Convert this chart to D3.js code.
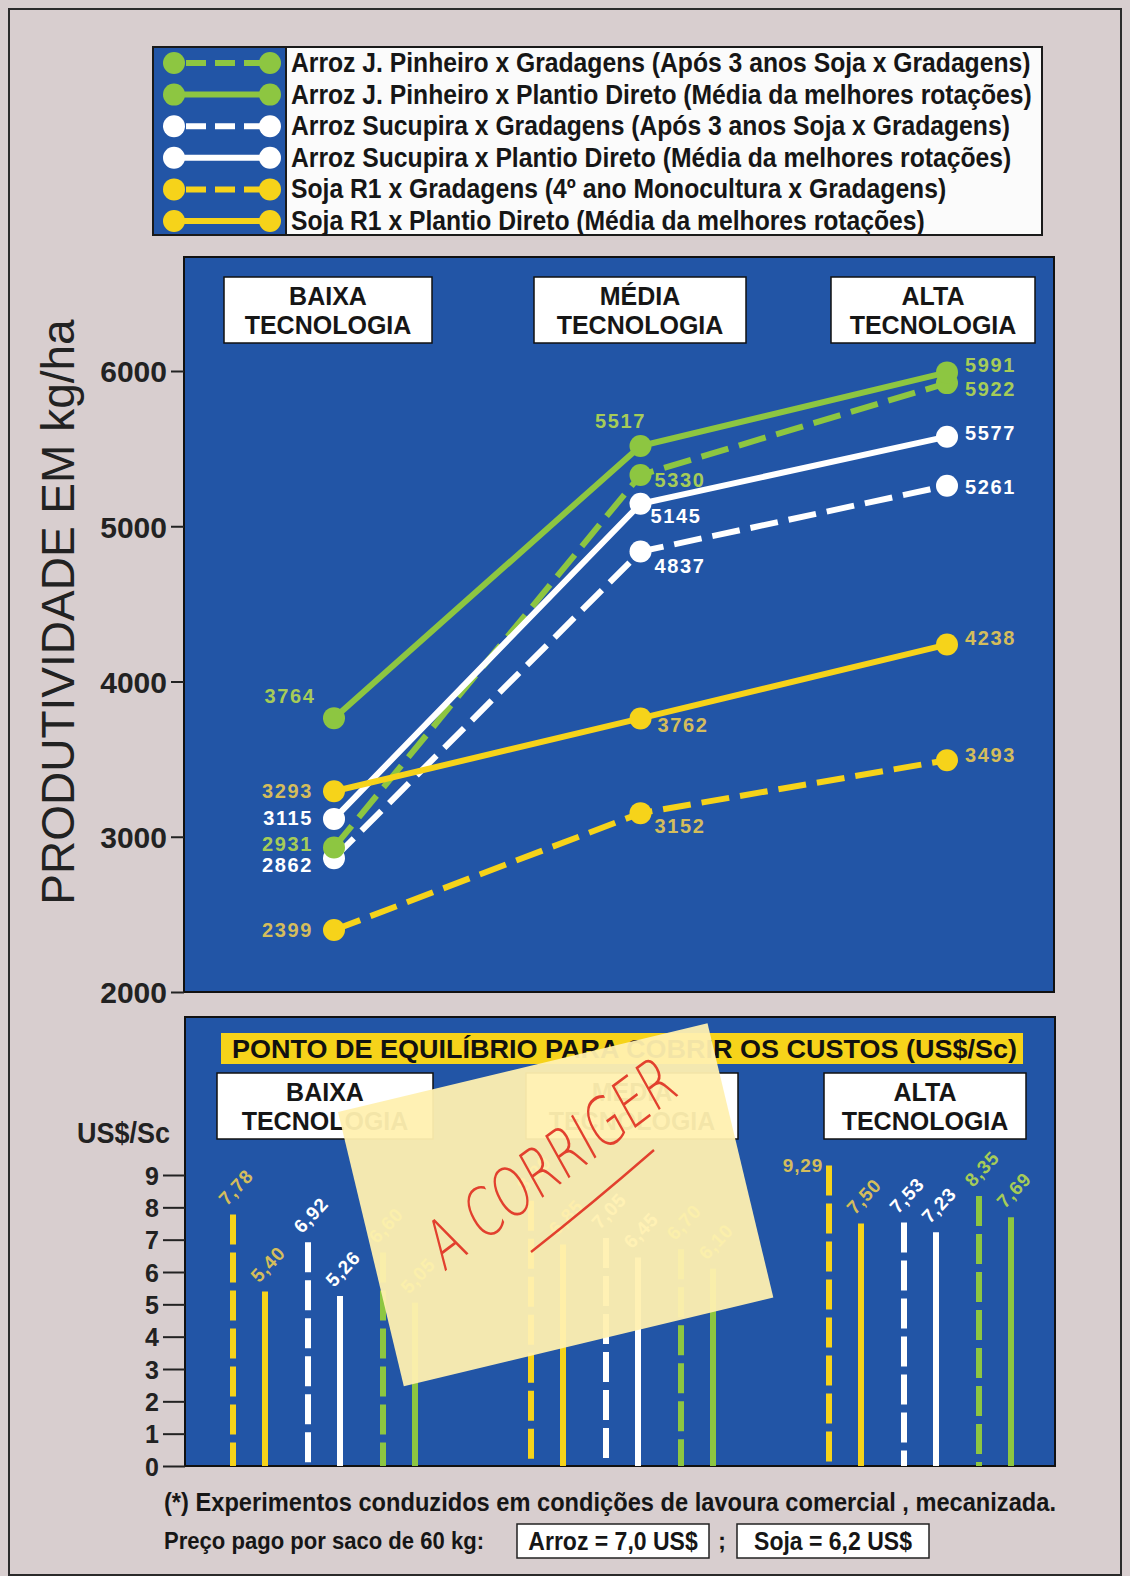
<!DOCTYPE html>
<html>
<head>
<meta charset="utf-8">
<script src="https://cdn.jsdelivr.net/npm/d3@7"></script>
<style>
  html, body { margin: 0; padding: 0; background: #d8cecf; }
  svg { display: block; font-family: "Liberation Sans", Arial, Helvetica, sans-serif; }
</style>
</head>
<body>
<svg id="chart" width="1130" height="1576"></svg>
<script>
// ---- data ----------------------------------------------------------------
const levels = ["BAIXA", "MÉDIA", "ALTA"];
const levelLines = [["BAIXA", "TECNOLOGIA"], ["MÉDIA", "TECNOLOGIA"], ["ALTA", "TECNOLOGIA"]];

const seriesKeys = ["jpGrad", "jpPD", "sucGrad", "sucPD", "sojaGrad", "sojaPD"];
const seriesNames = [
  "Arroz J. Pinheiro x Gradagens (Após 3 anos Soja x Gradagens)",
  "Arroz J. Pinheiro x Plantio Direto (Média da melhores rotações)",
  "Arroz Sucupira x Gradagens (Após 3 anos Soja x Gradagens)",
  "Arroz Sucupira x Plantio Direto (Média da melhores rotações)",
  "Soja R1 x Gradagens (4º ano Monocultura x Gradagens)",
  "Soja R1 x Plantio Direto (Média da melhores rotações)"
];

// productivity, kg/ha (BAIXA, MÉDIA, ALTA)
const jpGradYield   = [2931, 5330, 5922];
const jpPDYield     = [3764, 5517, 5991];
const sucGradYield  = [2862, 4837, 5261];
const sucPDYield    = [3115, 5145, 5577];
const sojaGradYield = [2399, 3152, 3493];
const sojaPDYield   = [3293, 3762, 4238];

// break-even price, US$ per 60 kg bag (BAIXA, MÉDIA, ALTA)
const sojaGradCost = [7.78, 8.20, 9.29];
const sojaPDCost   = [5.40, 6.85, 7.50];
const sucGradCost  = [6.92, 7.05, 7.53];
const sucPDCost    = [5.26, 6.45, 7.23];
const jpGradCost   = [6.60, 6.70, 8.35];
const jpPDCost     = [5.05, 6.10, 7.69];

const yieldTicks = [2000, 3000, 4000, 5000, 6000];
const costTicks  = [0, 1, 2, 3, 4, 5, 6, 7, 8, 9];

const costTitle = "PONTO DE EQUILÍBRIO PARA COBRIR OS CUSTOS (US$/Sc)";
const footNote  = "(*) Experimentos conduzidos em condições de lavoura comercial , mecanizada.";
const priceLead = "Preço pago por saco de 60 kg:";
const prices    = ["Arroz = 7,0 US$", "Soja = 6,2 US$"];

// ---- styling & layout -----------------------------------------------------
const BLUE = "#2255a6";
const GREEN = "#8dc641", YELLOW = "#f6d31a", WHITE = "#ffffff";
const INK = "#161616";
const style = {
  jpGrad:   { color: GREEN,  text: "#a6cc58", dashed: true },
  jpPD:     { color: GREEN,  text: "#a6cc58", dashed: false },
  sucGrad:  { color: WHITE,  text: "#ffffff", dashed: true },
  sucPD:    { color: WHITE,  text: "#ffffff", dashed: false },
  sojaGrad: { color: YELLOW, text: "#d4bd5c", dashed: true },
  sojaPD:   { color: YELLOW, text: "#d4bd5c", dashed: false }
};
const yieldOf = { jpGrad: jpGradYield, jpPD: jpPDYield, sucGrad: sucGradYield,
                  sucPD: sucPDYield, sojaGrad: sojaGradYield, sojaPD: sojaPDYield };
const costOf  = { jpGrad: jpGradCost, jpPD: jpPDCost, sucGrad: sucGradCost,
                  sucPD: sucPDCost, sojaGrad: sojaGradCost, sojaPD: sojaPDCost };

// value-label placement next to each point: [dx, dy, anchor] per level
const labelPlace = {
  jpGrad:   [[-21, 4, "end"],   [14, 12, "start"], [18, 13, "start"]],
  jpPD:     [[-44, -15, "middle"], [-20, -18, "middle"], [18, 0, "start"]],
  sucGrad:  [[-21, 14, "end"],  [14, 21, "start"], [18, 8, "start"]],
  sucPD:    [[-21, 6, "end"],   [10, 19, "start"], [18, 3, "start"]],
  sojaGrad: [[-21, 7, "end"],   [14, 20, "start"], [18, 2, "start"]],
  sojaPD:   [[-21, 7, "end"],   [17, 14, "start"], [18, 0, "start"]]
};

const svg = d3.select("#chart");
const fmtComma = d3.format(".2f");

// bold text squeezed horizontally, the way the condensed face of the sheet reads
function squeezed(parent, x, y, str, size, sx, anchor) {
  return parent.append("text")
    .attr("transform", `translate(${x},${y}) scale(${sx},1)`)
    .attr("text-anchor", anchor || "start")
    .attr("font-size", size).attr("font-weight", "bold").attr("fill", INK)
    .text(str);
}

// outer frame
svg.append("rect").attr("x", 9).attr("y", 9).attr("width", 1112).attr("height", 1566)
  .attr("fill", "#d8cecf").attr("stroke", "#2a2a2a").attr("stroke-width", 2);

// ---- legend ------------------------------------------------------------------
const legend = svg.append("g");
legend.append("rect").attr("x", 153).attr("y", 47).attr("width", 889).attr("height", 188)
  .attr("fill", "#fbfbfb").attr("stroke", "#1a1a1a").attr("stroke-width", 2);
legend.append("rect").attr("x", 153).attr("y", 47).attr("width", 133).attr("height", 188)
  .attr("fill", BLUE).attr("stroke", "#1a1a1a").attr("stroke-width", 2);
const legY = d3.scalePoint().domain(seriesKeys).range([63, 221]);
seriesKeys.forEach((k, i) => {
  const s = style[k], yy = legY(k);
  legend.append("line").attr("x1", 174).attr("x2", 270).attr("y1", yy).attr("y2", yy)
    .attr("stroke", s.color).attr("stroke-width", 6)
    .attr("stroke-dasharray", s.dashed ? "20,9" : null)
    .attr("stroke-dashoffset", s.dashed ? -12 : 0);
  [174, 270].forEach(cx => legend.append("circle").attr("cx", cx).attr("cy", yy).attr("r", 11).attr("fill", s.color));
  squeezed(legend, 291, yy + 9, seriesNames[i], 27, 0.915);
});

// ---- productivity panel --------------------------------------------------------
const topP = { left: 184, right: 1054, top: 257, bottom: 992 };
const x = d3.scalePoint().domain(levels).range([334, 947]);
const y = d3.scaleLinear().domain([2000, 6000]).range([topP.bottom, 371]);

svg.append("rect").attr("x", topP.left).attr("y", topP.top)
  .attr("width", topP.right - topP.left).attr("height", topP.bottom - topP.top)
  .attr("fill", BLUE).attr("stroke", "#111").attr("stroke-width", 2);

const yAxis = svg.append("g").attr("transform", `translate(${topP.left},0)`)
  .call(d3.axisLeft(y).tickValues(yieldTicks).tickSize(13).tickPadding(4).tickFormat(d3.format("d")));
yAxis.select(".domain").remove();
yAxis.selectAll(".tick line").attr("stroke", "#222").attr("stroke-width", 2);
yAxis.selectAll(".tick text").attr("font-size", 30).attr("font-weight", "bold")
  .attr("fill", "#222").attr("font-family", "Liberation Sans, Arial, sans-serif").attr("dy", "0.36em");

svg.append("text").attr("transform", "translate(74,612) rotate(-90)")
  .attr("text-anchor", "middle").attr("font-size", 46).attr("fill", "#222")
  .text("PRODUTIVIDADE EM kg/ha");

// level boxes (two-line captions)
function levelBoxes(centers, widths, yTop, h) {
  levels.forEach((lv, i) => {
    const g = svg.append("g"), cx = centers[i], w = widths[i];
    g.append("rect").attr("x", cx - w / 2).attr("y", yTop).attr("width", w).attr("height", h)
      .attr("fill", "#fff").attr("stroke", "#111").attr("stroke-width", 1.5);
    levelLines[i].forEach((t, j) => squeezed(g, cx, yTop + 28 + j * 29, t, 25, 1.0, "middle"));
  });
}
levelBoxes([328, 640, 933], [208, 212, 204], 277, 66);

// lines, then markers, then value labels
const line = d3.line().x((d, i) => x(levels[i])).y(d => y(d));
const drawOrder = ["sojaGrad", "sucGrad", "jpGrad", "sucPD", "jpPD", "sojaPD"];
drawOrder.forEach(k => {
  const s = style[k];
  svg.append("path").datum(yieldOf[k]).attr("d", line).attr("fill", "none")
    .attr("stroke", s.color).attr("stroke-width", 6)
    .attr("stroke-dasharray", s.dashed ? "28,11" : null);
});
drawOrder.forEach(k => {
  svg.append("g").selectAll("circle").data(yieldOf[k]).join("circle")
    .attr("cx", (d, i) => x(levels[i])).attr("cy", d => y(d)).attr("r", 11)
    .attr("fill", style[k].color);
});
seriesKeys.forEach(k => {
  svg.append("g").selectAll("text").data(yieldOf[k]).join("text")
    .attr("x", (d, i) => x(levels[i]) + labelPlace[k][i][0])
    .attr("y", (d, i) => y(d) + labelPlace[k][i][1])
    .attr("text-anchor", (d, i) => labelPlace[k][i][2])
    .attr("font-size", 20).attr("font-weight", "bold").attr("letter-spacing", 1.6)
    .attr("fill", style[k].text).text(d => d);
});

// ---- break-even panel --------------------------------------------------------
const botP = { left: 185, right: 1055, top: 1017, bottom: 1466 };
svg.append("rect").attr("x", botP.left).attr("y", botP.top)
  .attr("width", botP.right - botP.left).attr("height", botP.bottom - botP.top)
  .attr("fill", BLUE).attr("stroke", "#111").attr("stroke-width", 2);

svg.append("rect").attr("x", 221).attr("y", 1033).attr("width", 802).attr("height", 31).attr("fill", YELLOW);
svg.append("text").attr("x", 232).attr("y", 1058).attr("textLength", 785)
  .attr("lengthAdjust", "spacingAndGlyphs").attr("font-size", 26).attr("font-weight", "bold")
  .attr("fill", "#111").text(costTitle);

levelBoxes([325, 632, 925], [216, 212, 202], 1073, 66);

const yc = d3.scaleLinear().domain([0, 9]).range([botP.bottom, 1175]);
const cAxis = svg.append("g").attr("transform", `translate(${botP.left},0)`)
  .call(d3.axisLeft(yc).tickValues(costTicks).tickSize(22).tickPadding(4));
cAxis.select(".domain").remove();
cAxis.selectAll(".tick line").attr("stroke", "#222").attr("stroke-width", 2);
cAxis.selectAll(".tick text").attr("font-size", 25).attr("font-weight", "bold")
  .attr("fill", "#222").attr("font-family", "Liberation Sans, Arial, sans-serif").attr("dy", "0.36em");
squeezed(svg, 170, 1143, "US$/Sc", 30, 0.9, "end").attr("fill", "#222");

const gx = d3.scalePoint().domain(levels).range([233, 829]);
const cropX = d3.scalePoint().domain(["soja", "suc", "jp"]).range([0, 150]);
const methodX = d3.scalePoint().domain(["Grad", "PD"]).range([0, 32]);
const barSeries = ["sojaGrad", "sojaPD", "sucGrad", "sucPD", "jpGrad", "jpPD"];
const barX = (k, lv) => {
  const crop = k.replace(/Grad|PD/, ""), m = k.endsWith("PD") ? "PD" : "Grad";
  return gx(lv) + cropX(crop) + methodX(m);
};
barSeries.forEach(k => {
  const s = style[k];
  costOf[k].forEach((v, i) => {
    const bx = barX(k, levels[i]);
    svg.append("line").attr("x1", bx).attr("x2", bx).attr("y1", yc(v)).attr("y2", yc(0))
      .attr("stroke", s.color).attr("stroke-width", 6)
      .attr("stroke-dasharray", s.dashed ? "30,8" : null);
    const lbl = svg.append("text").attr("font-size", 19).attr("font-weight", "bold")
      .attr("letter-spacing", 0.8).attr("fill", s.text).text(fmtComma(v).replace(".", ","));
    if (v > 9) {
      lbl.attr("x", bx - 6).attr("y", yc(v) + 6).attr("text-anchor", "end");
    } else {
      lbl.attr("transform", `translate(${bx - 6},${yc(v) - 8}) rotate(-47)`);
    }
  });
});

// sticky note laid over the middle of the break-even panel
const note = svg.append("g").attr("transform", "translate(338,1112) rotate(-13.5)");
note.append("rect").attr("width", 380).attr("height", 282)
  .attr("fill", "#fff0b0").attr("opacity", 0.95);
svg.append("text").attr("transform", "translate(444,1272) rotate(-37) skewX(-8)")
  .attr("font-family", "DejaVu Sans, sans-serif").attr("font-weight", 200)
  .attr("font-size", 66).attr("textLength", 296).attr("lengthAdjust", "spacingAndGlyphs")
  .attr("fill", "#e2402e").text("A CORRIGER");
svg.append("path").attr("d", "M531,1252 Q592,1204 654,1150")
  .attr("fill", "none").attr("stroke", "#e2402e").attr("stroke-width", 2.4);

// ---- footer -------------------------------------------------------------------
svg.append("text").attr("x", 164).attr("y", 1511).attr("font-size", 25).attr("font-weight", "bold")
  .attr("textLength", 892).attr("lengthAdjust", "spacingAndGlyphs")
  .attr("fill", INK).text(footNote);
svg.append("text").attr("x", 164).attr("y", 1549).attr("font-size", 24).attr("font-weight", "bold")
  .attr("textLength", 320).attr("lengthAdjust", "spacingAndGlyphs")
  .attr("fill", INK).text(priceLead);
const priceBox = d3.scalePoint().domain(prices).range([613, 833]);
prices.forEach(p => {
  svg.append("rect").attr("x", priceBox(p) - 96).attr("y", 1524).attr("width", 192).attr("height", 34)
    .attr("fill", "#fff").attr("stroke", "#222").attr("stroke-width", 1.5);
  squeezed(svg, priceBox(p), 1550, p, 25, 0.92, "middle");
});
squeezed(svg, 722, 1549, ";", 24, 1, "middle");
</script>
</body>
</html>
